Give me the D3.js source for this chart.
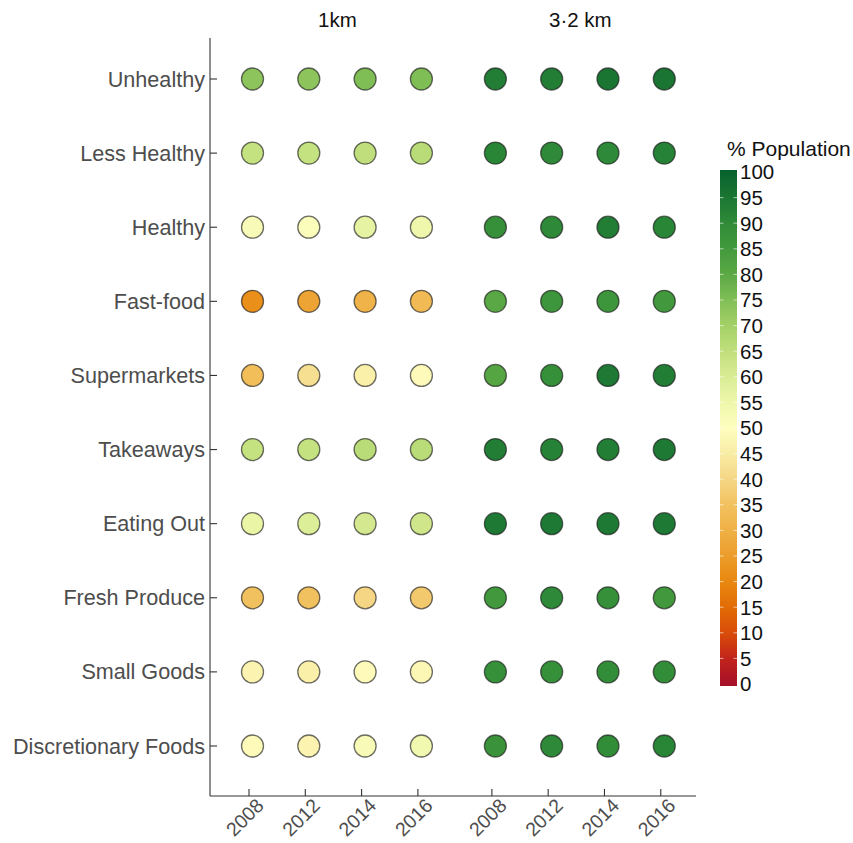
<!DOCTYPE html>
<html><head><meta charset="utf-8">
<script src="https://cdn.jsdelivr.net/npm/d3@7"></script>
<style>body{margin:0;background:#fff}svg{display:block}text{font-family:"Liberation Sans",Arial,sans-serif}</style>
</head><body><svg id="c" width="853" height="843"></svg>
<script>
const categories = ["Unhealthy","Less Healthy","Healthy","Fast-food","Supermarkets","Takeaways","Eating Out","Fresh Produce","Small Goods","Discretionary Foods"];
const years = ["2008","2012","2014","2016"];
const groups = ["1km","3·2 km"];
// % population, per category, years 2008/2012/2014/2016
const values1km = [
  [73,73,75,75],
  [64,64,65,66],
  [52,51,57,55],
  [22,27,31,33],
  [34,42,46,49],
  [64,64,66,66],
  [56,59,61,62],
  [35,35,40,37],
  [47,46,49,48],
  [49,47,52,54]
];
const values32km = [
  [93,93,95,95],
  [91,90,90,92],
  [88,90,93,91],
  [80,86,86,85],
  [81,88,94,93],
  [93,92,93,94],
  [94,94,94,94],
  [85,90,88,85],
  [88,88,89,89],
  [87,90,89,91]
];
const legendTicks = d3.range(0,101,5);
const colorStops = [0,5,10,15,20,25,30,35,40,45,50,55,60,65,70,75,80,85,90,95,100];
const colorValues = ["#a50f2a","#c0221c","#d84a0a","#e26a05","#e8870f","#ec9c2a","#efb044","#f2c15f","#f5d684","#f9eca5","#fefebf","#eef7ab","#d9ec94","#c0df7c","#a3d067","#7fbd55","#5aa845","#42993d","#2e8a38","#1a7533","#05612c"];

(function(){
const svg = d3.select("#c");
const color = d3.scaleLinear().domain(colorStops).range(colorValues).clamp(true);

const cols = [];
groups.forEach((g,gi)=>years.forEach((y,yi)=>cols.push({g,gi,y,yi,pos: gi*4 + yi + gi*0.314})));
const x = d3.scaleLinear().domain([0,1]).range([249,305.3]);
const yScale = d3.scalePoint().domain(categories).range([79,746]);

const pLeft = 210, pRight = 696, pTop = 38, pBottom = 796;
const axisColor = "#333";
const labelColor = "#4d4d4d";

svg.append("line").attr("x1",pLeft).attr("x2",pLeft).attr("y1",pTop).attr("y2",pBottom).attr("stroke",axisColor).attr("stroke-width",1.1);
svg.append("line").attr("x1",pLeft).attr("x2",pRight).attr("y1",pBottom).attr("y2",pBottom).attr("stroke",axisColor).attr("stroke-width",1.1);

categories.forEach(c=>{
  const yy = yScale(c);
  svg.append("line").attr("x1",pLeft).attr("x2",pLeft+7).attr("y1",yy).attr("y2",yy).attr("stroke",axisColor).attr("stroke-width",1.1);
  svg.append("text").attr("x",pLeft-5).attr("y",yy).attr("dy","0.35em").attr("text-anchor","end")
    .attr("font-size",21.6).attr("fill",labelColor).text(c);
});

cols.forEach(c=>{
  const xx = x(c.pos);
  svg.append("line").attr("x1",xx).attr("x2",xx).attr("y1",pBottom).attr("y2",pBottom-7).attr("stroke",axisColor).attr("stroke-width",1.1);
  svg.append("text").attr("transform",`translate(${xx+6},${pBottom+1}) rotate(-45)`)
    .attr("text-anchor","end").attr("dy","0.72em").attr("font-size",19.5).attr("fill",labelColor).text(c.y);
});

groups.forEach((g,gi)=>{
  const xs = cols.filter(c=>c.gi===gi).map(c=>x(c.pos));
  svg.append("text").attr("x",(xs[1]+xs[2])/2+4).attr("y",27).attr("text-anchor","middle")
    .attr("font-size",20.5).attr("fill","#111").text(g);
});

const series = [values1km, values32km];
cols.forEach(c=>{
  categories.forEach((cat,ci)=>{
    const v = series[c.gi][ci][c.yi];
    svg.append("circle").attr("cx",x(c.pos)+3.5).attr("cy",yScale(cat)).attr("r",11)
      .attr("fill",color(v)).attr("stroke","rgba(30,30,30,0.65)").attr("stroke-width",1.3);
  });
});

const lx = 720, lw = 17;
const ly = d3.scaleLinear().domain([0,100]).range([684,172]);
const defs = svg.append("defs");
const grad = defs.append("linearGradient").attr("id","lg").attr("x1",0).attr("x2",0).attr("y1",1).attr("y2",0);
colorStops.forEach((s,i)=>grad.append("stop").attr("offset",s/100).attr("stop-color",colorValues[i]));
svg.append("rect").attr("x",lx).attr("y",ly(100)-2).attr("width",lw).attr("height",ly(0)-ly(100)+4).attr("fill","url(#lg)");
legendTicks.forEach(t=>{
  const yy = ly(t);
  if(t>0 && t<100){
    svg.append("line").attr("x1",lx).attr("x2",lx+3.5).attr("y1",yy).attr("y2",yy).attr("stroke","rgba(255,255,255,0.6)").attr("stroke-width",1);
    svg.append("line").attr("x1",lx+lw-3.5).attr("x2",lx+lw).attr("y1",yy).attr("y2",yy).attr("stroke","rgba(255,255,255,0.6)").attr("stroke-width",1);
  }
  svg.append("text").attr("x",lx+lw+3).attr("y",yy).attr("dy","0.36em").attr("font-size",20.5).attr("fill","#111").text(t);
});
svg.append("text").attr("x",727).attr("y",156).attr("font-size",21).attr("fill","#111").text("% Population");
})();
</script></body></html>
